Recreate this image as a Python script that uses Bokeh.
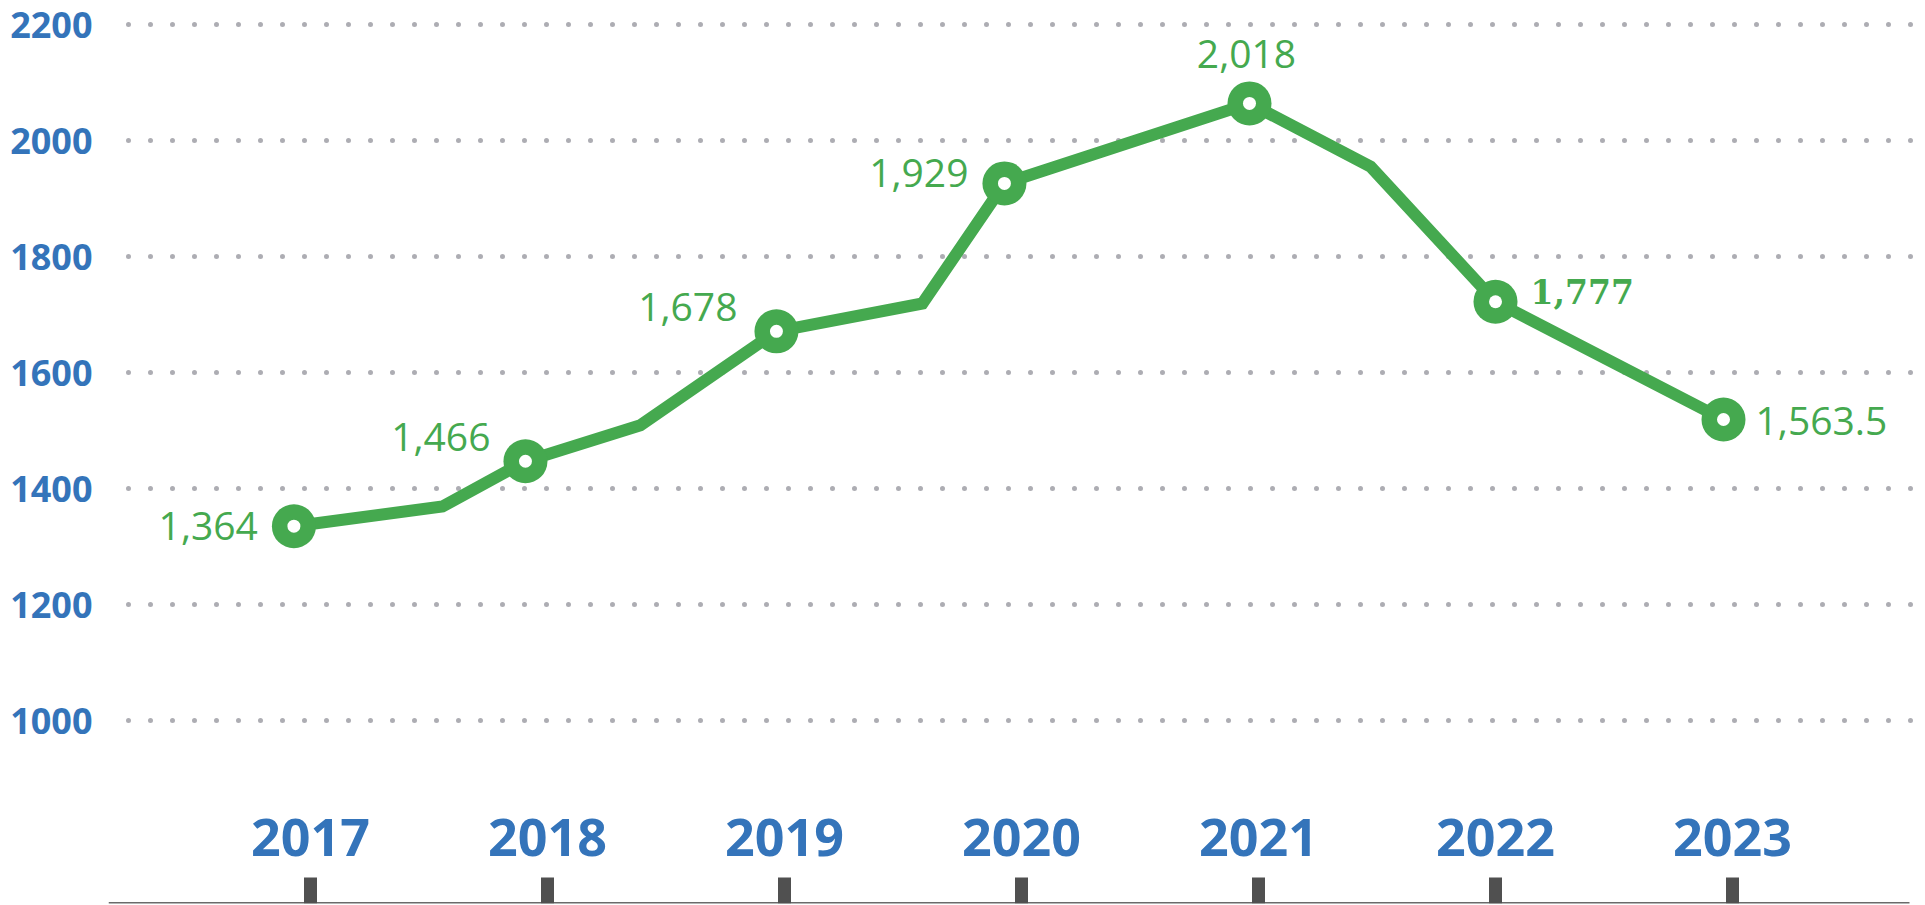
from bokeh.plotting import figure
from bokeh.models import LinearAxis, FixedTicker, Range1d
from bokeh.core.properties import value
from bokeh.embed import file_html
from bokeh.resources import INLINE

# ---- data ----
years = [2017, 2018, 2019, 2020, 2021, 2022, 2023]
y_ticks = [1000, 1200, 1400, 1600, 1800, 2000, 2200]

line_x = [2016.93, 2017.557, 2017.907, 2018.392, 2018.966, 2019.582,
          2019.928, 2020.962, 2021.473, 2022.0, 2022.962]
line_y = [1335, 1369, 1447, 1509, 1671, 1719, 1926, 2064, 1955, 1722, 1519]

marker_idx = [0, 2, 4, 6, 7, 9, 10]
marker_labels = ["1,364", "1,466", "1,678", "1,929", "2,018", "1,777", "1,563.5"]

# ---- styles ----
GREEN = "#45A94F"
BLUE = "#3474BA"
GRID = "#ADADB3"
TICK = "#505050"
BASE = "#6A6A6A"

label_align = ["right", "right", "right", "right", "center", "left", "left"]
label_dx = [-36, -35, -39, -36, -3, 35, 32]
label_dy = [0, -24, -24, -10, -49, -10, 2]
label_font = ["Open Sans"] * 5 + ["DejaVu Serif", "Open Sans"]
label_style = ["normal"] * 5 + ["bold", "normal"]
label_size = ["39px"] * 5 + ["33px", "39px"]

x_start, x_end, x_axis_end = 2016.1477, 2023.8143, 2023.7468
y_start, y_end = 684.5, 2241.4

p = figure(width=1925, height=905,
           x_range=Range1d(x_start, x_end), y_range=Range1d(y_start, y_end),
           output_backend="svg", toolbar_location=None,
           x_axis_location=None,
           min_border_left=108, min_border_right=0,
           min_border_top=0, min_border_bottom=2)
p.outline_line_color = None
p.background_fill_color = "white"
p.border_fill_color = "white"
p.xgrid.visible = False

# y axis
ya = p.yaxis[0]
ya.ticker = FixedTicker(ticks=y_ticks)
ya.axis_line_color = None
ya.major_tick_line_color = None
ya.minor_tick_line_color = None
ya.major_tick_out = 0
ya.major_tick_in = 0
ya.major_label_standoff = 16
ya.major_label_text_font = "Open Sans"
ya.major_label_text_font_style = "bold"
ya.major_label_text_font_size = "36px"
ya.major_label_text_color = BLUE

# dotted grid
g = p.ygrid[0]
g.grid_line_color = GRID
g.grid_line_width = 5
g.grid_line_dash = "0 22"
g.grid_line_dash_offset = 2
g.grid_line_cap = "round"

# x axis: line at frame bottom, ticks pointing up, labels above
xa = LinearAxis(ticker=FixedTicker(ticks=years),
                fixed_location=y_start,
                bounds=(x_start, x_axis_end))
xa.axis_line_color = BASE
xa.axis_line_width = 3
xa.major_tick_line_color = TICK
xa.major_tick_line_width = 13
xa.major_tick_in = 0
xa.major_tick_out = 26
xa.minor_tick_line_color = None
xa.major_label_standoff = 22
xa.major_label_text_font = "Open Sans"
xa.major_label_text_font_style = "bold"
xa.major_label_text_font_size = "52px"
xa.major_label_text_color = BLUE
p.add_layout(xa, "above")

# line
p.line(line_x, line_y, line_color=GREEN, line_width=12, line_join="miter")

# markers
mx = [line_x[i] for i in marker_idx]
my = [line_y[i] for i in marker_idx]
p.scatter(mx, my, size=44, fill_color=GREEN, line_color=None)
p.scatter(mx, my, size=13, fill_color="white", line_color=None)

# labels
for i, txt in enumerate(marker_labels):
    k = marker_idx[i]
    p.text(x=[line_x[k]], y=[line_y[k]], text=[txt],
           x_offset=label_dx[i], y_offset=label_dy[i],
           text_align=label_align[i], text_baseline="middle",
           text_font=value(label_font[i]), text_font_style=label_style[i],
           text_font_size=label_size[i], text_color=GREEN)

open("out.html", "w").write(file_html(p, INLINE))
